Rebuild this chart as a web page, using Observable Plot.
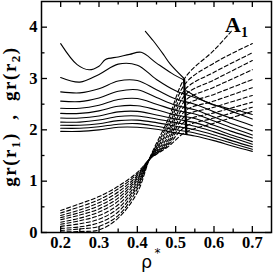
<!DOCTYPE html>
<html><head><meta charset="utf-8">
<script src="https://cdn.jsdelivr.net/npm/d3@7"></script>
<script src="https://cdn.jsdelivr.net/npm/@observablehq/plot@0.6"></script>
<style>html,body{margin:0;padding:0;background:#fff;}</style>
</head><body><div id="chart"></div>
<script>
// ---- data ----
const solidX = [0.2,0.25,0.3,0.35,0.4,0.45,0.5,0.55,0.6,0.65,0.7];
const solidY = [
  [3.02,2.93,3.08,3.28,3.26,2.98,2.76,2.63,2.49,2.35,2.21],
  [2.74,2.72,2.80,2.95,2.96,2.78,2.60,2.50,2.35,2.21,2.08],
  [2.56,2.55,2.62,2.75,2.78,2.63,2.48,2.39,2.25,2.11,1.98],
  [2.42,2.42,2.48,2.59,2.61,2.50,2.38,2.31,2.17,2.03,1.90],
  [2.32,2.32,2.37,2.46,2.47,2.39,2.29,2.22,2.09,1.96,1.84],
  [2.23,2.23,2.27,2.35,2.36,2.29,2.21,2.14,2.02,1.89,1.77],
  [2.15,2.15,2.19,2.26,2.27,2.21,2.14,2.07,1.96,1.84,1.72],
  [2.09,2.09,2.12,2.18,2.19,2.14,2.07,2.00,1.90,1.78,1.67],
  [2.03,2.03,2.06,2.11,2.12,2.07,2.00,1.94,1.84,1.73,1.62],
  [1.97,1.97,2.00,2.05,2.05,2.01,1.94,1.88,1.79,1.68,1.58]
];
const topX = [0.2,0.243,0.274,0.3,0.317,0.35,0.38,0.41,0.45,0.49,0.522];
const topY = [3.68,3.27,3.17,3.24,3.37,3.42,3.47,3.51,3.30,3.10,2.97];
const highX = [0.421,0.442,0.468,0.486,0.522];
const highY = [3.92,3.73,3.47,3.28,3.00];
const tailX = [0.528,0.56,0.593,0.62,0.64,0.662,0.68,0.7];
const tailY = [2.76,2.62,2.50,2.45,2.41,2.38,2.34,2.30];
const dashX = [0.2,0.25,0.3,0.35,0.4,0.434,0.48,0.525,0.6,0.7];
const dashLastX = [0.645,0.7,0.7,0.7,0.7,0.7,0.7,0.7,0.7,0.7,0.7];
const dashY = [
  [0.01,0.02,0.05,0.28,0.78,1.48,2.20,3.02,3.55,3.92],
  [0.04,0.07,0.12,0.33,0.85,1.47,2.12,2.90,3.30,3.68],
  [0.08,0.11,0.19,0.40,0.90,1.47,2.04,2.79,3.12,3.50],
  [0.12,0.17,0.26,0.47,0.94,1.46,1.97,2.68,2.97,3.35],
  [0.16,0.23,0.33,0.54,0.98,1.46,1.91,2.57,2.83,3.17],
  [0.20,0.28,0.40,0.61,1.02,1.46,1.85,2.47,2.69,2.98],
  [0.25,0.34,0.46,0.67,1.05,1.45,1.80,2.37,2.56,2.82],
  [0.29,0.39,0.52,0.73,1.08,1.45,1.76,2.27,2.44,2.67],
  [0.33,0.44,0.58,0.79,1.11,1.45,1.73,2.17,2.33,2.54],
  [0.38,0.50,0.64,0.85,1.14,1.44,1.70,2.06,2.23,2.44],
  [0.43,0.56,0.70,0.90,1.17,1.44,1.67,1.95,2.13,2.36]
];
const boundaryX = [0.522,0.528];
const boundaryY = [2.98,1.92];
const xTicks = [0.2,0.3,0.4,0.5,0.6,0.7];
const xMinor = [0.25,0.35,0.45,0.55,0.65];
const yTicks = [0,1,2,3,4];
const yMinor = [0.5,1.5,2.5,3.5];

// ---- build tables ----
const solidRows = [];
solidY.forEach((ys,i)=>ys.forEach((y,j)=>solidRows.push({id:"s"+i,x:solidX[j],y})));
topX.forEach((x,j)=>solidRows.push({id:"top",x,y:topY[j]}));
highX.forEach((x,j)=>solidRows.push({id:"high",x,y:highY[j]}));
tailX.forEach((x,j)=>solidRows.push({id:"tail",x,y:tailY[j]}));
const dashRows = [];
dashY.forEach((ys,i)=>ys.forEach((y,j)=>dashRows.push({id:"d"+i,x:j===dashX.length-1?dashLastX[i]:dashX[j],y})));
const boundRows = boundaryX.map((x,j)=>({x,y:boundaryY[j]}));

const W=273,H=274, mL=41,mR=2,mT=1,mB=42;
const iw=W-mL-mR, ih=H-mT-mB;

const svg = Plot.plot({
  width:W, height:H, marginLeft:mL, marginRight:mR, marginTop:mT, marginBottom:mB,
  style:{fontFamily:"'Liberation Serif', serif", fontSize:"16.5px", fontWeight:"bold", color:"black", background:"white"},
  x:{domain:[0.15,0.75]},
  y:{domain:[0,4.5]},
  marks:[
    Plot.line(solidRows,{x:"x",y:"y",z:"id",stroke:"black",strokeWidth:1.1,curve:"catmull-rom"}),
    Plot.line(dashRows,{x:"x",y:"y",z:"id",stroke:"black",strokeWidth:1.1,strokeDasharray:"4,2.5",curve:"catmull-rom"}),
    Plot.line(boundRows,{x:"x",y:"y",stroke:"black",strokeWidth:2.3}),
    Plot.tickX(xTicks,{x:d=>d,insetTop:ih-6,strokeWidth:1.3}),
    Plot.tickX(xMinor,{x:d=>d,insetTop:ih-3.5,strokeWidth:1.3}),
    Plot.tickX(xTicks,{x:d=>d,insetBottom:ih-6,strokeWidth:1.3}),
    Plot.tickX(xMinor,{x:d=>d,insetBottom:ih-3.5,strokeWidth:1.3}),
    Plot.tickY(yTicks,{y:d=>d,insetRight:iw-6,strokeWidth:1.3}),
    Plot.tickY(yMinor,{y:d=>d,insetRight:iw-3.5,strokeWidth:1.3}),
    Plot.tickY(yTicks,{y:d=>d,insetLeft:iw-6,strokeWidth:1.3}),
    Plot.tickY(yMinor,{y:d=>d,insetLeft:iw-3.5,strokeWidth:1.3}),
    Plot.axisX(xTicks,{tickSize:0,tickPadding:4,label:null,tickFormat:d3.format(".1f")}),
    Plot.axisY(yTicks,{tickSize:0,tickPadding:4,label:null,tickFormat:d3.format("d")}),
    Plot.frame({strokeWidth:1.5})
  ]
});
document.getElementById("chart").appendChild(svg);

const s = d3.select(svg);
// y label
const yl = s.append("text")
  .attr("transform",`translate(16,${mT+ih/2}) rotate(-90)`)
  .attr("text-anchor","middle")
  .style("font-family","'Liberation Serif', serif").style("font-weight","bold")
  .style("font-size","19px").style("letter-spacing","1.5px");
yl.append("tspan").text("gr(r");
yl.append("tspan").attr("dy",4).style("font-size","13px").text("1");
yl.append("tspan").attr("dy",-4).text(")  ,  gr(r");
yl.append("tspan").attr("dy",4).style("font-size","13px").text("2");
yl.append("tspan").attr("dy",-4).text(")");
// x label
s.append("text").attr("x",146.5).attr("y",267.5)
  .style("font-family","'DejaVu Sans', sans-serif").style("font-weight","normal").style("font-size","17.5px")
  .text("ρ");
s.append("text").attr("x",157.5).attr("y",257)
  .style("font-family","'DejaVu Sans', sans-serif").style("font-weight","normal").style("font-size","12px")
  .text("*");
// panel label
const al = s.append("text").attr("x",236.5).attr("y",31.5)
  .style("font-family","'Liberation Serif', serif").style("font-weight","bold").style("font-size","22px");
al.append("tspan").text("A");
al.append("tspan").attr("dy",5).style("font-size","14px").text("1");
</script></body></html>
